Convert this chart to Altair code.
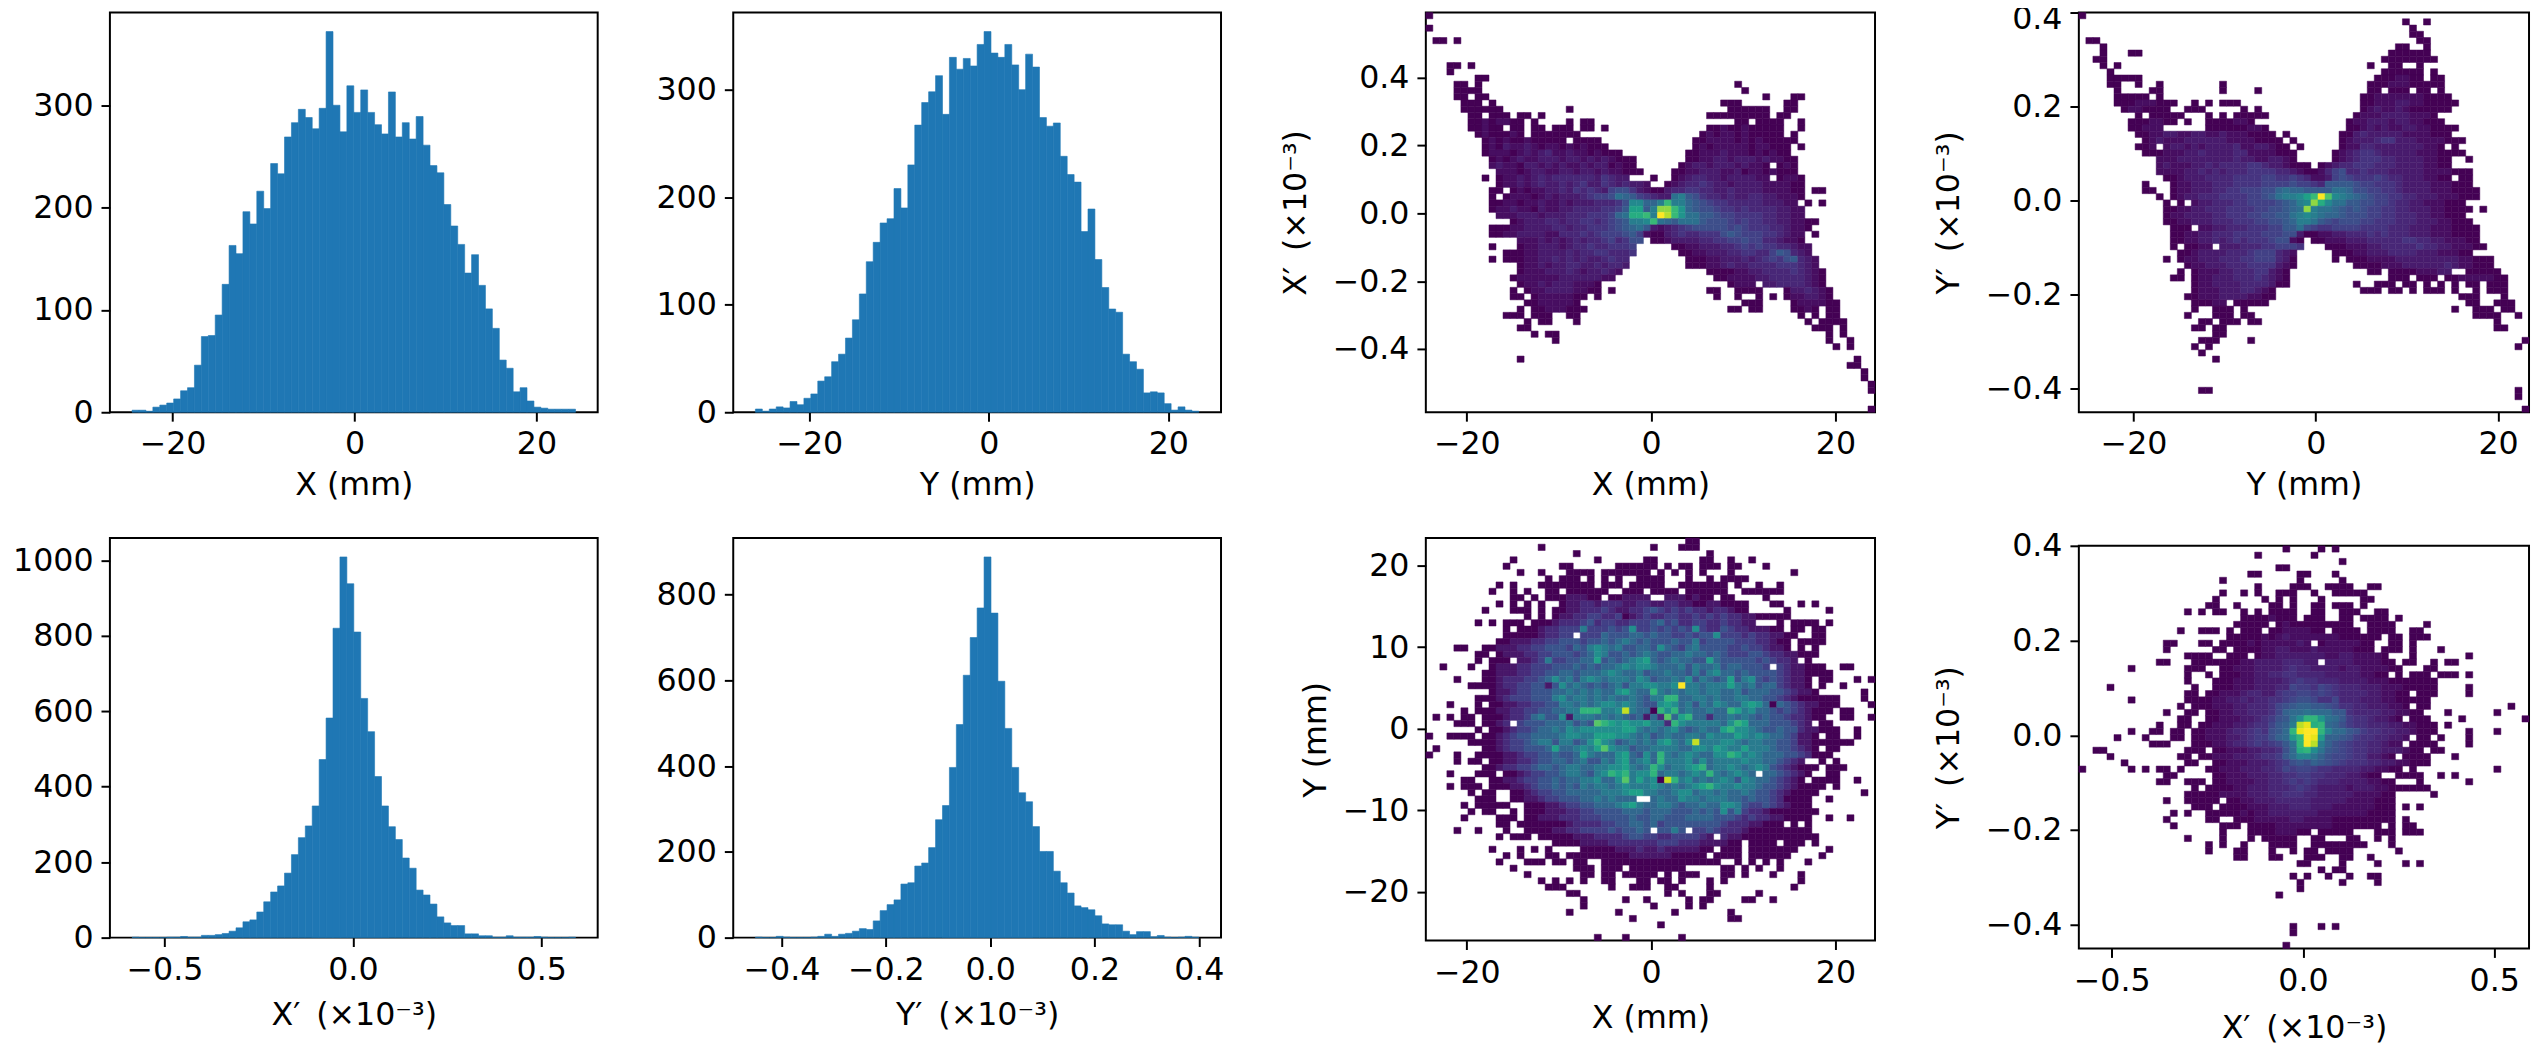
import altair as alt
import pandas as pd

FONT = "DejaVu Sans"
BLUE = "#1f77b4"

x_counts = [2,2,1,5,7,9,13,21,24,46,74,75,95,125,163,155,196,184,216,199,243,233,269,283,296,288,277,297,372,300,274,319,293,315,293,281,272,313,269,283,267,289,261,241,234,203,182,164,136,154,124,101,82,51,43,20,24,11,5,4,3,3,3,3]
y_counts = [3,1,3,5,4,10,7,13,17,29,33,47,54,69,86,110,140,158,176,180,208,190,230,267,288,298,313,277,330,319,329,322,342,354,334,330,342,323,300,333,321,274,266,269,238,221,214,168,189,142,116,96,93,54,47,40,18,19,18,8,2,5,2,1]
xp_counts = [1,0,0,0,0,1,1,3,1,1,6,6,8,11,17,26,42,47,68,95,121,137,171,220,265,296,349,472,582,820,1009,938,810,634,546,427,349,294,260,211,184,126,113,89,55,39,32,32,10,10,5,5,1,1,5,1,1,1,3,1,0,0,0,1]
yp_counts = [1,0,0,3,1,0,0,0,1,3,8,3,8,10,15,21,19,39,63,77,88,125,128,167,174,210,275,308,397,497,612,700,769,888,757,598,488,397,338,317,259,201,201,155,128,104,74,70,65,51,32,30,30,15,7,14,14,2,5,1,0,1,3,1]

X_RANGE = [-24.45, 24.3]
Y_RANGE = [-26.0, 23.4]
XP_RANGE = [-0.586, 0.591]
YP_RANGE = [-0.45, 0.4]

# Sparse rows of the 64x64 histograms: {row: "col:digits col:digits"}; digits are base-36 counts.
xxp_rows = {
0:"0:1",2:"0:1",4:"1:11 4:1",8:"3:11 6:1",9:"3:1",10:"7:11",11:"4:11 7:1 44:1",12:"4:1111 45:1",
13:"4:11 7:11 48:1 52:11",14:"5:111 9:1 42:111 51:11",15:"5:111111 20:1 43:111111 51:11",
16:"6:11 9:111 13:11 16:1 40:111111111 50:11",17:"6:11212211 15:1 20:1 22:11 44:11 47:1111 53:1",
18:"6:11211 12:11 15:11 18:111 22:11 25:1 40:11211211111 53:1",19:"7:1211121 15:1111111 39:121221211111 52:1",
20:"8:121211211111 21:1111 38:11222212121111 52:1",21:"8:121322321221212111 38:12122222122111 53:1",
22:"8:12221232342232212111 37:112223222121211",23:"9:121232233323323232111 37:1122332333232211",
24:"9:232213323232232331211 36:1233233323221 50:121",25:"10:222123322332332322111 35:112233322312212111",
26:"8:1 10:1223234344444435433 32:1 35:12344332333322 50:1221",27:"10:1223234334345335434332 34:12344543323333222211",
28:"9:11 12:12122334354543 26:6775321134 36:455443343333222211 55:11",
29:"9:1 11:122212323334566 26:7a9865433ab8 38:7544343344332221",
30:"9:11221223223233344457 29:cc99bgbb98 39:76554444433322 54:1 56:1",
31:"9:12232213223344445568 29:ee8bjjgd98 39:776554544443322",
32:"10:222333233344455569a 29:ffgbmkgdaa 39:887665555443322",
33:"12:12333443445545678 29:bbcga98aaa 39:87776565544332211",
34:"9:111223333443445556789 30:a83234567 39:7777676555443221",
35:"9:112233332244454566678 30:6 31:211 34:34544 39:555787666554322 55:1",
36:"13:222323234344564577 32:1123333445566766443221",
37:"9:1 13:12233323445445556 35:11223334456565544322",
38:"11:1112233334344554445 36:1122333445544687432",
39:"9:1 11:111223343434334544 37:1112233343456578432",
40:"13:1223233443343443 37:1112234334444555432",
41:"13:122233343233432 40:11112233444454321",
42:"12:122222233333322 41:1122223344444321",
43:"13:122323332221 43:1222 48:334444321",
44:"12:1 14:12233332211 26:1 40:11 44:111 47:1 51:1334321",
45:"12:11 15:12222211 24:1 41:1 44:1 47:1 49:1 51:1223321",
46:"14:11222221 45:11 47:1 52:1222211",47:"13:1 15:1122211 22:1 43:11 46:11 52:1121 57:11",
48:"11:111 15:111 20:11 53:1 55:1 57:11",49:"14:1 16:11 21:1 54:1 56:111 59:1",50:"13:11 55:111 59:1",
51:"15:1 17:11 57:1 59:1",52:"18:1 57:1 60:1",53:"58:1 60:1",55:"13:1 61:1",56:"60:11",57:"62:1",58:"62:1",59:"63:1",60:"63:1",63:"63:1",
}
yyp_rows = {
0:"0:1",1:"46:1 49:1",2:"47:1",3:"47:11",4:"1:11 48:11",5:"3:1 45:11 49:1",6:"3:1 7:11 44:111111",7:"2:11 43:11111111",
8:"3:1 5:1 41:1 44:11 48:1",9:"4:1 43:111111 50:1",10:"4:11111 42:1112211 50:11",11:"4:11 8:1 11:1 20:1 41:11122211111",
12:"5:1 10:11 20:1 25:1 41:11 44:111 48:11 51:1",13:"5:11111 11:1 40:1122222221111",
14:"5:111222111 16:1 18:1 20:111 40:11222332211111",15:"6:1221111 15:111 23:1 25:1 40:1232232111111",
16:"8:1 10:11111 18:1 20:1 22:11111 39:122233332221",17:"7:1112211 15:1 18:1111221 38:12233323322111",
18:"7:11222 18:111111221 38:1123232233221111",19:"8:11223322332232221111 29:1 37:1134333332222111",
20:"9:12322233333322221111 30:1 37:123334553332222111",21:"8:112 12:233232333342233211 31:1 37:122443333333221 53:1",
22:"9:1112223343333442222111 36:1234554333332221111",23:"11:22233333333433223321 36:12345554433332211 55:1",
24:"11:2322233434444554332111 34:1234455544433332211",25:"11:22223343434445555443 31:21124 36:67445444333332222111",
26:"12:1123334444555566556 31:542236 37:7655565443332211 54:11",
27:"9:1 13:12233344455556666 30:766548888 39:76655543333222111",
28:"9:11 13:122333445566677 28:9a998888aa9 39:776655433332221111",
29:"11:1 13:1233444555566 26:78abbcegmhcba 39:987665544333222111",
30:"12:1 14:1 16:23344455666678 30:9bcjfcaa8 39:8776654433222111",
31:"12:112233444555566778 30:9ajbaa987 39:8766554433322111 55:1 57:1",
32:"12:122333344555667788 30:abcba9987 39:7766554443322111",
33:"12:112233344455566778 30:9bba87677 39:76655544433322111",
34:"13:111 17:22334445556688 31:a765566 38:6655554443332221111",
35:"13:112233444555566677 31:311 34:223344 40:45454443332221111",
36:"13:1122334345455567721 33:112223334444455443322211",
37:"13:1 15:1122 20:333444556665 35:11122233444445443322211",
38:"14:11233334445666432 36:11122333444433322211",
39:"12:1 14:12233344455666431 36:1 38:111222233333333322111",
40:"15:1223334445555321 39:11112223333334322111",
41:"14:1 16:12223344455321 41:11 44:111122233 55:11111",42:"13:11 16:12233344454321 44:111 48:111 52:112222211",
43:"16:12233334444311 39:1 42:111 46:11 49:1 51:1 53:1 55:11 58:111",44:"16:122233344321 40:111 44:11 47:1 49:111 53:1 56:1 58:111",
45:"15:1122233332211 54:111 60:1",46:"16:11122 22:11111 55:11 59:111",47:"16:1 19:111 23:1 53:1 56:111 60:11",
48:"15:1 19:111 23:11 56:1111 62:1",49:"17:11 20:111 24:11 59:1",50:"16:11 19:11 59:11",51:"19:11",52:"17:111 24:1 63:1",
53:"16:1 18:1 62:1",54:"17:1",55:"19:1",60:"17:11 62:1",61:"62:1",63:"63:1",
}
xy_rows = {
0:"37:11",1:"16:1 32:1 36:111",2:"21:1 40:1",3:"12:1 24:1 31:11 39:11 43:1 46:1",
4:"11:1 19:11 27:111111 34:1 36:11 39:111 43:11 48:1",
5:"13:1 16:1 20:1111 25:1111 29:111 33:1 35:1 37:1 39:1 43:1 52:1",
6:"17:1 19:111 23:1 25:1 27:1 30:111 33:1 37:1 40:1 42:11 44:11",
7:"10:1 12:1 16:11 18:1 19:1111 23:1 25:11 27:1 29:11111 36:1111 40:111 44:1 47:1 50:1",
8:"9:1 12:1 14:1 17:11 20:11 22:111 25:1 28:1 29:11 32:11 34:11 37:1111 41:11 45:111 48:111",
9:"12:11 15:1 17:11122211 26:112222 34:2221211 42:11 48:1",
10:"10:1 12:1 14:1 16:1 19:1223323332 29:2332233221 39:1221111 49:11 53:1 55:1",
11:"8:1 12:111 16:1 18:1 19:1223334322 29:3345434343 39:3233211 51:1 57:1",
12:"14:1 16:1 18:12 20:2334433412 30:3433443343 40:4343322111 50:11",
13:"7:1 9:1 11:111 15:11123 20:3345344334 30:4456453344 40:3343322 50:1 52:1111 57:1",
14:"11:1 13:1112334447 23:4445458445 33:454548 39:433543322211 52:11 55:11",
15:"11:1111123344 22:4446555665 32:6554454558 42:4443433221 52:1 55:11",
16:"10:1122233445 20:5545565676 30:5655565574 40:555544433211 53:1111",
17:"4:11 8:1122233445 18:5546578767 28:5566586546 38:7555544544 48:3221 53:1 55:1",
18:"7:11 10:1222334455 20:5456875565 30:6765566766 40:5654445543 50:322 53:11 55:1",
19:"7:1 9:111 13:2234744556 23:6956567896 33:5676655965 43:5555454332 54:1",
20:"2:1 6:1 9:1222334445 19:5565656678 29:7887666757 39:6675665554 50:4322111 59:11",
21:"8:1122233445 18:5665666787 28:6675667665 38:7578665655 48:5543221111",
22:"4:1 8:1123334456 18:8675787677 28:7687566768 38:5765695785 48:4543221 56:11 61:1 63:1",
23:"6:1111233445 16:5258676565 26:6757788778 36:e 37:7767779767 47:56643221 56:1 59:1",
24:"9:1223445556 19:6767676689 29:766a767677 39:6776675666 49:5543221 62:1",
25:"7:1112344455 17:5786776767 27:6676577 34:aa 36:6 37:6776766776 47:655432111111 62:1",
26:"3:1 7:1 9:1122334455 19:7767678878 29:7655898675 39:7687668986 49:1654322 56:111 63:1",
27:"5:1 7:11 9:1223344556 19:677aaa778d 29:7661a8a676 39:6766a97866 49:545432111 59:11",
28:"1:1 3:1 5:11 8:1112334675 18:5827776767 28:656263b69a 38:6636676765 48:655433211 59:11 63:1",
29:"4:11 6:1 8:1123 13:4555666756 23:5ba9898897 33:73a8777776 43:8a96665554 53:32 56:11",
30:"7:1 9:1123445667 19:6878888889 29:9767678656 39:7669a88765 49:5655322111 61:1",
31:"0:1 3:1111 8:1123455666 18:6788779998 28:8767567667 38:7687779878 48:76654221 57:11 61:1",
32:"6:11 8:1123445677 18:577568a875 28:6767689768 38:d 39:7778876776 49:65542211111 60:1",
33:"1:1 8:1123445556 18:9667879b87 28:7566777766 38:8879877977 48:76554321 57:11",
34:"0:1 4:1 7:11 9:1122344556 19:5569766689 29:6586a76787 39:6688a97876 49:665543111",
35:"4:1 6:11 9:1122334556 19:6567557689 29:6786a77786 39:8677778776 49:65432 56:1 58:1",
36:"8:1123344566 18:5677667788 28:9767a86778 38:9a67787678 48:754321 54:11 57:111",
37:"3:1 7:111 11:1123445567 21:76578a9a78 31:8a6776787a 41:767876 48:6654321 57:11",
38:"5:11 9:1122344556 19:566778668b 29:7978 33:1 34:d 35:a786767875 45:876654321 55:11 57:11 61:1",
39:"3:1 5:111 9:1112234556 19:5657677678 29:7778767678 39:9a87787765 49:54321111 58:1",
40:"6:1 8:11 12:1123445566 22:6667778997 32:7667886776 42:7667655432 52:1111 62:1",
41:"7:111 12:1122344555 22:66767666 32:6766877677 42:7665655431 52:111 57:1",
42:"5:1 7:11111 14:1 15:1122344556 25:6678976677 35:6566766887 45:5445432111",
43:"6:1 8:11 12:1 14:1 15:1122233445 25:5556665666 35:5556565857 45:433211111 54:11",
44:"5:1 10:111 14:1122233344 24:4555565566 34:5556666555 44:4343322111 54:1 57:1 60:1",
45:"10:11 13:111 16:1111233334 26:4556656455 36:5555554333 46:22111 52:1 54:1",
46:"4:1 7:1 11:1 14:111 17:1223344445 27:45565 33:5575 38:4454333211 48:1111111",
47:"10:1 12:111 16:1111122233 26:3345544334 36:44432 42:322111111 51:11111",
48:"18:1111222233 28:3333344433 38:3222211 46:1111 51:111 55:1",
49:"9:1 13:1 15:1 17:1 22:1111122232 32:232222211 42:111 46:1 47:111111 57:1",
50:"11:1 13:1 17:11 20:1 21:1111111122 31:222211111 41:1111 46:11 48:1111 56:1",
51:"10:1 14:111 18:11 21:11 25:11111111 33:1111 37:1111 41:1 44:1 46:1 48:1 50:1 54:1",
52:"12:1 21:111 25:111 29:11111111 42:11 45:1 47:1 50:1",
53:"14:1 22:11 25:11 28:11111 34:1 36:11 38:1 42:11 45:1 49:1 53:1",
54:"16:1 18:1 20:1 22:1 25:11 30:11 33:11 36:1 40:1 42:1 53:1",
55:"17:111 26:1 29:111 34:11 40:1 52:1",56:"20:11 34:1 36:1 40:11 47:1",
57:"22:1 28:1 31:1 37:1 39:11 45:11 49:1",58:"22:1 32:1 37:1 39:1",59:"20:1 27:1 35:1 43:1",60:"29:1 43:11",61:"33:1",63:"24:1 28:1 36:1",
}
xpyp_rows = {
0:"29:1 34:1 36:1",1:"25:1 33:1",2:"37:1",3:"28:11",4:"24:11 31:11 36:1",5:"20:1 31:1 37:1",
6:"25:1 30:111 35:1111 41:11",7:"20:1 23:1 25:1 28:111 33:1 36:11111",8:"19:1 26:1 28:1 30:1 34:1 40:11",
9:"18:11 22:1 27:11 30:1 33:11 36:111 40:1",10:"15:1 17:1 19:11 23:1 25:1 27:1111 33:11 37:111 42:11",
11:"23:11112111 32:111 37:11 40:1111 45:1",12:"22:11111 28:12111111111 41:11 43:11 49:1",
13:"14:1 17:111 21:1 23:111 27:11222211 36:1111 41:1111 47:11",14:"21:111112123222222211111 42:1 44:11 47:111",
15:"12:11 17:11 20:11 22:11212222232 34:12222211 44:11 47:1",16:"12:1 19:11 22:1111223322 32:232222211 41:1 43:111 47:1 51:1",
17:"15:1111 21:111 25:1223333333 35:223322221 47:1 55:1",18:"11:11 16:111 19:111122333344433 35:3333222211 46:11 50:1 52:11",
19:"7:1 15:111 20:1122233334 30:5443333233 40:222211 49:11",20:"15:1 18:1 20:1112233445 30:5444433333 40:2211 45:1 47:1 48:11 51:111 55:1",
21:"15:1 19:1112223333 29:4565544433 39:33222111 47:1111",22:"4:1 16:1 19:1112223334 29:4766576544 39:433322211111 55:1",
23:"15:11 18:1122234433 28:5667767654 38:444332211 48:111 55:1",24:"7:1 15:1111223343 25:4455678875 35:5744433322 45:11111",
25:"14:1 16:1112223344 26:45789aa998 36:7554433322 46:1 48:11 61:1",26:"12:1 15:11 18:1122334445 28:7abbcbbb99 38:544443322 47:11 52:1 59:1",
27:"14:11 18:1122233456 28:89cfkkgcb9 38:65543321 47:111 54:1 63:1",28:"11:1 14:11 17:1122233455 27:79adrtjkba 37:8655444332 47:211 50:1 52:1",
29:"7:1 10:11 13:11 16:1122234456 26:589bktuuke 36:bb98655443 46:3211 50:1 55:1 59:1",
30:"5:1 9:1 13:11 16:1122233456 26:68abhkutha 36:a9865544332 48:11 51:1 55:1",
31:"10:111 16:1112234456 26:5679ckurda 36:8765544322 47:111 50:1 55:1",
32:"2:11 15:111 19:1122233445 29:8bjkfc9876 39:5544333211 50:11",33:"4:1 14:11 17:1122233345 27:569beeca87 37:76553321 46:1111 53:1",
34:"6:1 15:11 19:1122233345 29:6898a98765 39:55443322111",35:"0:1 7:1 9:1 11:11 14:1 18:1122233344 28:5767765544 38:44332211 47:1 59:1",
36:"12:11 19:1122233344 29:5566554443 39:3211 45:1111 51:1 53:1",37:"11:11 15:111 19:1122223344 29:5656544433 39:332211 48:1 55:1",
38:"16:1 18:1 19:1112233344 29:4565433332 39:33322111111",39:"15:1111122223 25:3344555443 35:3333222211 50:1",
40:"12:1 15:11111 21:1122333444 31:4433333222 41:2111",41:"16:111 20:111122 26:233344 32:4333222 39:222111 46:1 48:1",
42:"13:1 15:1 18:11 20:1112 24:1223333 31:3332222 38:2221111",43:"12:1 18:11 22:11122222 30:33222211 38:11111 43:11 46:1",
44:"13:1 20:111 24:1 25:1112222 32:2222111 39:111 42:1 44:1 46:11",45:"20:1 24:1111222 31:11 34:11111 42:11 44:1 46:111",
46:"15:1 20:1 24:1 26:11111 33:11 38:11 42:1 44:1",47:"18:1 20:1 23:1 27:1111 33:11 35:11111 40:1 44:1",
48:"18:1 22:11 27:1 30:1 32:11 35:1111 45:1",49:"22:11 27:11 32:111 37:11 41:1",50:"31:11 37:1 42:1 46:1 48:1",
51:"34:1 36:11",52:"30:1 32:1 35:1 38:1 41:11",53:"31:1 37:1 42:1",54:"31:1",55:"28:1",60:"30:1 34:1 36:1",61:"30:1",63:"29:1",
}

Y_TICK_300 = [0, 100, 200, 300]
Y_TICK_1000 = [0, 200, 400, 600, 800, 1000]
Y_TICK_800 = [0, 200, 400, 600, 800]
MM_TICKS = [-20, 0, 20]
XP_TICKS = [-0.5, 0.0, 0.5]
YP_TICKS = [-0.4, -0.2, 0.0, 0.2, 0.4]
XP2_TICKS = [-0.4, -0.2, 0.0, 0.2, 0.4]
Y_MM_TICKS = [-20, -10, 0, 10, 20]

PRIME_X = "X\u2032\u2002(\u00d710\u207b\u00b3)"
PRIME_Y = "Y\u2032\u2002(\u00d710\u207b\u00b3)"


def ax(values, fmt, title=None, tpad=6, **kw):
    d = dict(values=values, format=fmt, grid=False, domain=False, ticks=True, tickColor="black",
             tickWidth=2, tickSize=9, labelColor="black", labelFont=FONT, labelFontSize=32,
             labelPadding=8, labelFlush=False, labelOverlap=False,
             labelExpr="replace(datum.label, '-', '\u2212')",
             titleFont=FONT, titleFontSize=32, titleFontWeight="normal", titleColor="black", titlePadding=tpad)
    d["title"] = title if title else None
    d.update(kw)
    return alt.Axis(**d)


def hist(counts, rng, xticks, xfmt, xtitle, yticks, w=493, h=404, xpad=10):
    n = len(counts)
    dx = (rng[1] - rng[0]) / n
    df = pd.DataFrame({"a": [rng[0] + i * dx for i in range(n)],
                       "b": [rng[0] + (i + 1) * dx for i in range(n)],
                       "c": counts})
    m = 0.05 * (rng[1] - rng[0])
    return alt.Chart(df).mark_rect(color=BLUE, stroke=BLUE, strokeWidth=0.6).encode(
        x=alt.X("a:Q", scale=alt.Scale(domain=[rng[0] - m, rng[1] + m], nice=False, zero=False),
                axis=ax(xticks, xfmt, xtitle, tpad=xpad)),
        x2="b:Q",
        y=alt.Y("c:Q", scale=alt.Scale(domain=[0, max(counts) * 1.05], nice=False),
                axis=ax(yticks, "d")),
        y2=alt.datum(0),
    ).properties(width=w, height=h)


def heat(rows, xr, yr, vmax, xticks, xfmt, xtitle, yticks, yfmt, ytitle, w=454, h=404, tpad=20, xpad=10,
         exponent=1.0, yoff=None):
    dx = (xr[1] - xr[0]) / 64
    dy = (yr[1] - yr[0]) / 64
    recs = []
    for r, text in rows.items():
        for seg in text.split():
            start, digits = seg.split(":")
            for k, ch in enumerate(digits):
                c = int(start) + k
                if c < 64:
                    recs.append({"a": xr[0] + c * dx, "b": xr[0] + (c + 1) * dx,
                                 "t": yr[1] - r * dy, "u": yr[1] - (r + 1) * dy, "v": int(ch, 36)})
    df = pd.DataFrame(recs)
    color_scale = alt.Scale(type="pow", exponent=exponent, scheme="viridis", domain=[1, vmax])
    extra = {} if yoff is None else {"labelOffset": {"expr": yoff}}
    return alt.Chart(df).mark_rect(strokeWidth=0.5).encode(
        x=alt.X("a:Q", scale=alt.Scale(domain=xr, nice=False, zero=False), axis=ax(xticks, xfmt, xtitle, tpad=xpad)),
        x2="b:Q",
        y=alt.Y("t:Q", scale=alt.Scale(domain=yr, nice=False, zero=False),
                axis=ax(yticks, yfmt, ytitle, tpad=tpad, **extra)),
        y2="u:Q",
        color=alt.Color("v:Q", scale=color_scale, legend=None),
        stroke=alt.Stroke("v:Q", scale=color_scale, legend=None),
    ).properties(width=w, height=h)


p1 = hist(x_counts, X_RANGE, MM_TICKS, "d", "X (mm)", Y_TICK_300)
p2 = hist(y_counts, Y_RANGE, MM_TICKS, "d", "Y (mm)", Y_TICK_300)
p5 = hist(xp_counts, XP_RANGE, XP_TICKS, ".1f", PRIME_X, Y_TICK_1000, xpad=15)
p6 = hist(yp_counts, YP_RANGE, XP2_TICKS, ".1f", PRIME_Y, Y_TICK_800, xpad=15)
p3 = heat(xxp_rows, X_RANGE, XP_RANGE, 22, MM_TICKS, "d", "X (mm)", YP_TICKS, ".1f", PRIME_X, exponent=1.2)
p4 = heat(yyp_rows, Y_RANGE, YP_RANGE, 22, MM_TICKS, "d", "Y (mm)", YP_TICKS, ".1f", PRIME_Y,
          w=455, tpad=20, exponent=1.2, yoff="datum.value > 0.39 ? 6 : 0")
p7 = heat(xy_rows, X_RANGE, Y_RANGE, 14, MM_TICKS, "d", "X (mm)", Y_MM_TICKS, "d", "Y (mm)", h=407, tpad=10, xpad=15,
          exponent=1.2)
p8 = heat(xpyp_rows, XP_RANGE, YP_RANGE, 30, XP_TICKS, ".1f", PRIME_X, YP_TICKS, ".1f", PRIME_Y, w=455, h=407, xpad=17)


def indep(c):
    return c.resolve_scale(color="independent", stroke="independent")


col1 = alt.vconcat(p1, p5, spacing=127, bounds="flush")
col2 = alt.vconcat(p2, p6, spacing=127, bounds="flush")
col3 = indep(alt.vconcat(p3, p7, spacing=127, bounds="flush"))
col4 = indep(alt.vconcat(p4, p8, spacing=135, bounds="flush"))

left = alt.hconcat(col1, col2, spacing=56)
right = indep(alt.hconcat(col3, col4, spacing=55))

chart = indep(alt.hconcat(left, right, spacing=53)).configure_view(stroke="black", strokeWidth=2).properties(
    padding={"left": 3, "top": -12, "right": 0, "bottom": 0}, background="white"
)

chart.save("out.html", embed_options={"renderer": "svg", "actions": False})
